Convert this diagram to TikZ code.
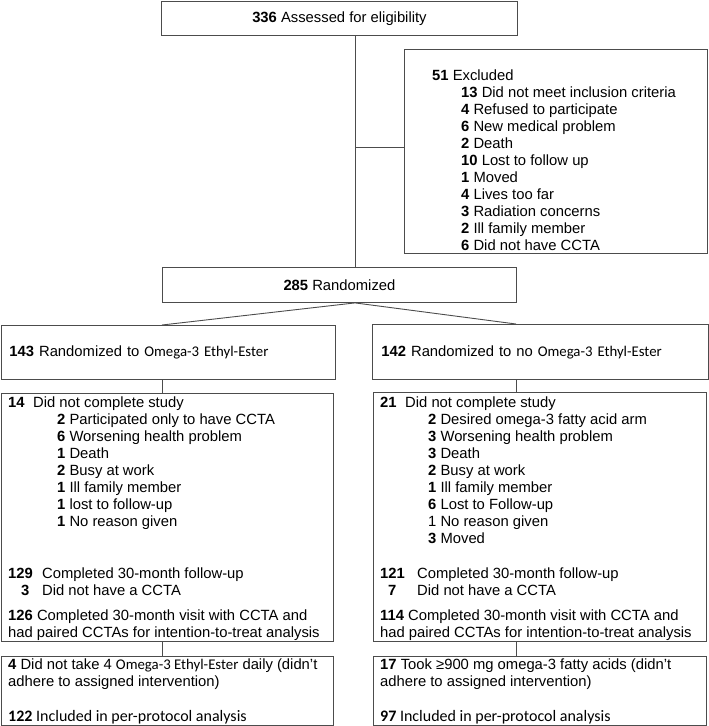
\documentclass[tikz,border=0pt]{standalone}
\usepackage{fontspec}
\setmainfont{Liberation Sans}
\newfontfamily\calfont{Carlito}
\usepackage{tikz}
\usetikzlibrary{calc}
\newcommand{\nb}[1]{\textbf{#1}}
\newcommand{\omg}{{\calfont Omega-3 Ethyl-Ester}}

\begin{document}
\begin{tikzpicture}[x=1pt,y=-1pt,font=\fontsize{14.8}{17}\selectfont,
  box/.style={draw=black!70,line width=0.9pt,inner sep=0pt,anchor=north west},
  txt/.style={anchor=north west,inner sep=0pt,align=left},
  link/.style={draw=black!70,line width=0.9pt}]
\useasboundingbox (0,0) rectangle (709,726);

%boxes
\node[box,minimum width=356pt,minimum height=34pt] (assess) at (161,1){\nb{336} Assessed for eligibility};
\node[box,minimum width=303pt,minimum height=204pt] (excl) at (404,49){};
\node[box,minimum width=354pt,minimum height=35pt] (rand) at (162,267){\nb{285} Randomized};
\node[box,inner xsep=8pt,text width=318pt,minimum height=54pt,align=left] (armA) at (1,325){\nb{143} Randomized to \omg};
\node[box,inner xsep=9pt,text width=318pt,minimum height=55pt,align=left] (armB) at (372,324){\nb{142} Randomized to no \omg};
\node[box,minimum width=332pt,minimum height=248pt] (compA) at (1,393){};
\node[box,minimum width=333pt,minimum height=249pt] (compB) at (373,392){};
\node[box,minimum width=332pt,minimum height=69pt] (ppA) at (1,656){};
\node[box,minimum width=333pt,minimum height=69pt] (ppB) at (373,656){};

%texts in the boxes
\node[txt] (exclText) at (432,68.1){\strut\nb{51} Excluded\\
  \hspace*{29pt}\nb{13} Did not meet inclusion criteria\\
  \hspace*{29pt}\nb{4} Refused to participate\\
  \hspace*{29pt}\nb{6} New medical problem\\
  \hspace*{29pt}\nb{2} Death\\
  \hspace*{29pt}\nb{10} Lost to follow up\\
  \hspace*{29pt}\nb{1} Moved\\
  \hspace*{29pt}\nb{4} Lives too far\\
  \hspace*{29pt}\nb{3} Radiation concerns\\
  \hspace*{29pt}\nb{2} Ill family member\\
  \hspace*{29pt}\nb{6} Did not have CCTA};

\node[txt] (compTextA) at (8,395.1){\strut\makebox[25pt][l]{\nb{14}}Did not complete study\\
  \hspace*{49pt}\nb{2} Participated only to have CCTA\\
  \hspace*{49pt}\nb{6} Worsening health problem\\
  \hspace*{49pt}\nb{1} Death\\
  \hspace*{49pt}\nb{2} Busy at work\\
  \hspace*{49pt}\nb{1} Ill family member\\
  \hspace*{49pt}\nb{1} lost to follow-up\\
  \hspace*{49pt}\nb{1} No reason given\\[35pt]
  \makebox[34pt][l]{\nb{129}}Completed 30-month follow-up\\
  \hspace*{13pt}\makebox[21pt][l]{\nb{3}}Did not have a CCTA\\[8pt]
  \nb{126} Completed 30-month visit with CCTA and\\
  had paired CCTAs for intention-to-treat analysis};

\node[txt] (compTextB) at (380,395.1){\strut\makebox[25pt][l]{\nb{21}}Did not complete study\\
  \hspace*{48pt}\nb{2} Desired omega-3 fatty acid arm\\
  \hspace*{48pt}\nb{3} Worsening health problem\\
  \hspace*{48pt}\nb{3} Death\\
  \hspace*{48pt}\nb{2} Busy at work\\
  \hspace*{48pt}\nb{1} Ill family member\\
  \hspace*{48pt}\nb{6} Lost to Follow-up\\
  \hspace*{48pt}1 No reason given\\
  \hspace*{48pt}\nb{3} Moved\\[18pt]
  \makebox[37pt][l]{\nb{121}}Completed 30-month follow-up\\
  \hspace*{8pt}\makebox[29pt][l]{\nb{7}}Did not have a CCTA\\[8pt]
  \nb{114} Completed 30-month visit with CCTA and\\
  had paired CCTAs for intention-to-treat analysis};

\node[txt] (ppTextA) at (8,657.1){\strut\nb{4} Did not take 4 \omg\ daily (didn't\\
  adhere to assigned intervention)\\[18pt]
  {\calfont\fontsize{16}{17}\selectfont\nb{122} Included in per-protocol analysis}};
\node[txt] (ppTextB) at (380,657.1){\strut\nb{17} Took ≥900 mg omega-3 fatty acids (didn't\\
  adhere to assigned intervention)\\[18pt]
  {\calfont\fontsize{16}{17}\selectfont\nb{97} Included in per-protocol analysis}};

%connectors
\coordinate (spine) at (355,0);
\coordinate (branch) at (355,147);
\coordinate (colA) at (162,0);
\coordinate (colB) at (516,0);
\draw[link] (assess.south -| spine) -- (rand.north -| spine);
\draw[link] (branch) -- (branch -| excl.west);
\draw[link] (rand.south -| spine) -- (armA.north -| colA);
\draw[link] (rand.south -| spine) -- (armB.north -| colB);
\draw[link] (armA.south -| colA) -- (compA.north -| colA);
\draw[link] (armB.south -| colB) -- (compB.north -| colB);
\draw[link] (compA.south -| colA) -- (ppA.north -| colA);
\draw[link] (compB.south -| colB) -- (ppB.north -| colB);
\end{tikzpicture}
\end{document}
